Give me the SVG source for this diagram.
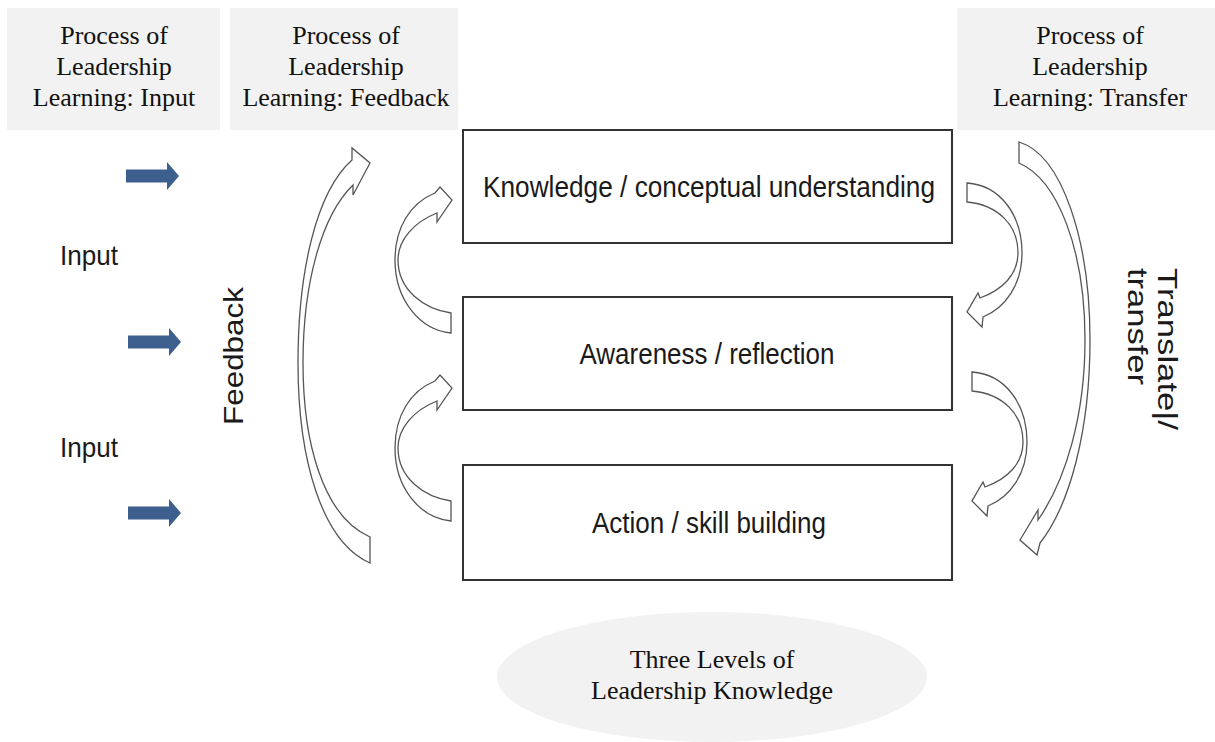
<svg xmlns="http://www.w3.org/2000/svg" width="1215" height="742" viewBox="0 0 1215 742">
<defs>
<style>
.hdr{fill:#f2f2f2;stroke:none}
.ht{font-family:"Liberation Serif","Times New Roman",serif;font-size:26px;fill:#111;text-anchor:middle}
.box{fill:#fff;stroke:#333;stroke-width:2}
.bt{font-family:"Liberation Sans",Arial,sans-serif;font-size:29px;fill:#1a1a1a;text-anchor:middle}
.lt{font-family:"Liberation Sans",Arial,sans-serif;font-size:28px;fill:#1a1a1a}
.ca{fill:#fff;stroke:#555;stroke-width:1.3;stroke-linejoin:miter}
.ba{fill:#3d5f8d}
</style>
<path id="bluearrow" d="M0,-6.5 L41,-6.5 L41,-14 L53,0 L41,14 L41,6.5 L0,6.5 Z"/>
<path id="smallL" d="M451,313 C424,309 398,290 398,260 C398,240 414,222 437,213 L437,222 L452,200 L440,187 L435,193 C410,203 395,228 395,260 C395,300 420,330 451,333 Z"/>
<path id="smallR" d="M967,183 C1000,185 1022,215 1022,253 C1022,285 1005,308 983,317 L982,327 L967,312 L978,293 L980,298 C1002,290 1018,275 1018,253 C1018,225 998,205 967,202 Z"/>
</defs>
<rect width="1215" height="742" fill="#fff"/>

<g id="hdr-input">
<rect class="hdr" x="7" y="8" width="213" height="122"/>
<text class="ht" x="114" y="44">Process of</text>
<text class="ht" x="114" y="75">Leadership</text>
<text class="ht" x="114" y="106">Learning: Input</text>
</g>
<g id="hdr-feedback">
<rect class="hdr" x="230" y="8" width="228" height="122"/>
<text class="ht" x="346" y="44">Process of</text>
<text class="ht" x="346" y="75">Leadership</text>
<text class="ht" x="346" y="106">Learning: Feedback</text>
</g>
<g id="hdr-transfer">
<rect class="hdr" x="957" y="8" width="258" height="122"/>
<text class="ht" x="1090" y="44">Process of</text>
<text class="ht" x="1090" y="75">Leadership</text>
<text class="ht" x="1090" y="106">Learning: Transfer</text>
</g>

<g id="knowledge">
<rect class="box" x="463" y="130" width="489" height="113"/>
<text class="bt" x="709" y="197" textLength="452" lengthAdjust="spacingAndGlyphs">Knowledge / conceptual understanding</text>
</g>
<g id="awareness">
<rect class="box" x="463" y="297" width="489" height="113"/>
<text class="bt" x="707" y="364" textLength="255" lengthAdjust="spacingAndGlyphs">Awareness / reflection</text>
</g>
<g id="action">
<rect class="box" x="463" y="465" width="489" height="115"/>
<text class="bt" x="709" y="533" textLength="234" lengthAdjust="spacingAndGlyphs">Action / skill building</text>
</g>

<g id="levels">
<ellipse cx="712" cy="677" rx="215" ry="65" fill="#f2f2f2"/>
<text class="ht" x="712" y="668">Three Levels of</text>
<text class="ht" x="712" y="699">Leadership Knowledge</text>
</g>

<g id="labels">
<text class="lt" x="60" y="265" textLength="58" lengthAdjust="spacingAndGlyphs">Input</text>
<text class="lt" x="60" y="457" textLength="58" lengthAdjust="spacingAndGlyphs">Input</text>
<text class="lt" transform="translate(243,425) rotate(-90)" textLength="138" lengthAdjust="spacingAndGlyphs">Feedback</text>
<text class="lt" transform="translate(1158,268) rotate(90)" textLength="162" lengthAdjust="spacingAndGlyphs">Translate|/</text>
<text class="lt" transform="translate(1128,268) rotate(90)" textLength="117" lengthAdjust="spacingAndGlyphs">transfer</text>
</g>

<g id="connectors">
<use href="#bluearrow" class="ba" x="126" y="176"/>
<use href="#bluearrow" class="ba" x="128" y="342"/>
<use href="#bluearrow" class="ba" x="128" y="513"/>
<path class="ca" d="M370,537 C322,516 303,440 303,363 C303,282 322,215 353,185 L353,195 L370,163 L352,148 L352,160 C316,192 298,272 298,363 C298,460 322,542 370,563 Z"/>
<use href="#smallL" class="ca"/>
<use href="#smallL" class="ca" y="188"/>
<path class="ca" d="M1019,142 C1062,155 1090,240 1090,340 C1090,430 1070,505 1040,543 L1037,555 L1020,540 L1038,510 L1038,520 C1066,480 1085,415 1085,340 C1085,250 1058,180 1019,163 Z"/>
<use href="#smallR" class="ca"/>
<use href="#smallR" class="ca" x="5" y="189"/>
</g>
</svg>
